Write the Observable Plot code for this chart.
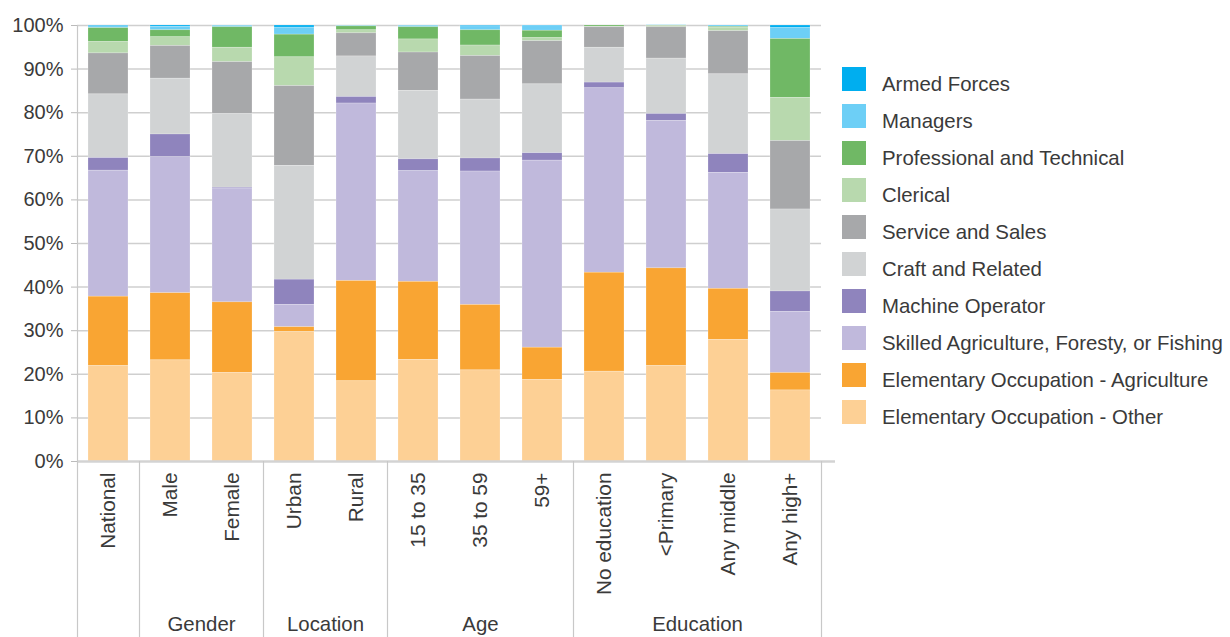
<!DOCTYPE html>
<html>
<head>
<meta charset="utf-8">
<script src="https://cdn.jsdelivr.net/npm/d3@7"></script>
<script src="https://cdn.jsdelivr.net/npm/@observablehq/plot@0.6"></script>
<style>
  html, body { margin: 0; padding: 0; background: #fff; }
  #wrap { position: relative; width: 1230px; height: 637px; overflow: hidden; font-family: "Liberation Sans", Arial, sans-serif; color: #3a3a3a; }
  #chart { position: absolute; left: 0; top: 0; }
  #legend { position: absolute; left: 842px; top: 67px; }
  .item { display: flex; align-items: center; height: 24px; margin-bottom: 13px; font-size: 20.4px; white-space: nowrap; }
  .sw { width: 24px; height: 24px; margin-right: 16px; flex: none; }
  .lbl { position: relative; top: 5px; }
</style>
</head>
<body>
<div id="wrap"><div id="chart"></div><div id="legend"></div></div>
<script>
// ---- data ----
const categories = ["National","Male","Female","Urban","Rural","15 to 35","35 to 59","59+","No education","<Primary","Any middle","Any high+"];
const occupations = ["Armed Forces","Managers","Professional and Technical","Clerical","Service and Sales","Craft and Related","Machine Operator","Skilled Agriculture, Foresty, or Fishing","Elementary Occupation - Agriculture","Elementary Occupation - Other"];
const colors = ["#00aeef","#6dcff6","#70b865","#b8d9ae","#a7a8aa","#d1d3d4","#8f84bd","#c0b9dc","#f9a533","#fdd095"];

const armed        = [0.2,0.3,0.1,0.5,0.1,0.1,0.2,0.0,0.0,0.0,0.0,0.6];
const managers     = [0.4,0.8,0.3,1.6,0.1,0.3,0.9,1.2,0.0,0.1,0.3,2.5];
const professional = [3.2,1.6,4.7,5.2,0.9,2.8,3.5,1.7,0.3,0.1,0.2,13.5];
const clerical     = [2.6,2.0,3.3,6.6,0.7,3.0,2.4,0.7,0.1,0.3,0.8,9.9];
const service      = [9.4,7.5,11.9,18.3,5.3,8.8,10.0,9.9,4.7,7.2,9.9,15.7];
const craft        = [14.6,12.8,16.9,26.1,9.3,15.7,13.5,15.8,8.0,12.7,18.3,18.8];
const machine      = [2.9,5.2,0.2,5.8,1.5,2.7,3.0,1.7,1.3,1.6,4.3,4.7];
const skilled      = [28.9,31.2,26.1,5.1,40.7,25.4,30.6,42.9,42.3,33.8,26.6,14.0];
const eoAgri       = [15.9,15.4,16.2,1.1,23.0,17.9,15.0,7.4,22.7,22.4,11.7,4.0];
const eoOther      = [21.9,23.2,20.3,29.7,18.4,23.3,20.9,18.7,20.6,21.9,27.9,16.3];

const yTicks = [0,10,20,30,40,50,60,70,80,90,100];

const groups = [
  {name: "Gender",    members: ["Male","Female"]},
  {name: "Location",  members: ["Urban","Rural"]},
  {name: "Age",       members: ["15 to 35","35 to 59","59+"]},
  {name: "Education", members: ["No education","<Primary","Any middle","Any high+"]}
];

// ---- build table ----
const seriesValues = [armed, managers, professional, clerical, service, craft, machine, skilled, eoAgri, eoOther];
const rows = [];
categories.forEach((c, i) => {
  occupations.forEach((o, k) => rows.push({category: c, occupation: o, value: seriesValues[k][i]}));
});
const bottomUp = occupations.slice().reverse();

// layout constants
const STEP = 62;
const HALF = STEP / 2;

const groupStarts = groups.map(g => g.members[0]);
const lastCat = categories[categories.length - 1];
const groupLabelAnchors = groups.map(g => ({
  name: g.name,
  cat: g.members[Math.floor((g.members.length - 1) / 2)],
  even: g.members.length % 2 === 0
}));

const chart = Plot.plot({
  width: 840,
  height: 637,
  marginTop: 25,
  marginBottom: 176,
  marginLeft: 77,
  marginRight: 19,
  style: {fontFamily: "'Liberation Sans', Arial, sans-serif", fontSize: "20px", color: "#3a3a3a", background: "transparent", overflow: "visible"},
  x: {domain: categories, paddingInner: 22 / STEP, paddingOuter: 11 / STEP, label: null},
  y: {domain: [0, 100], label: null},
  color: {domain: occupations, range: colors},
  marks: [
    Plot.ruleY(yTicks.filter(d => d > 0), {stroke: "#cfcfcf", strokeWidth: 1.5}),
    Plot.barY(rows, Plot.stackY({order: bottomUp}, {
      x: "category", y: "value", fill: "occupation", z: "occupation",
      stroke: "#fff", strokeOpacity: 0.35, strokeWidth: 0.6
    })),
    Plot.ruleY([0], {stroke: "#d3d3d3", strokeWidth: 2.5, insetRight: -14}),
    // left axis line (full height, extends under labels)
    Plot.ruleX([categories[0]], {x: d => d, dx: -HALF, stroke: "#c8c8c8", strokeWidth: 1.2, insetBottom: -176}),
    // group separators below axis
    Plot.ruleX(groupStarts, {x: d => d, dx: -HALF, stroke: "#c8c8c8", strokeWidth: 1.2, insetTop: 436, insetBottom: -176}),
    Plot.ruleX([lastCat], {x: d => d, dx: HALF, stroke: "#c8c8c8", strokeWidth: 1.2, insetTop: 436, insetBottom: -176}),
    Plot.axisY({ticks: yTicks, tickFormat: d => d + "%", tickSize: 6, tickPadding: 8, fontSize: 20, stroke: "#bbb", label: null}),
    Plot.axisX({tickRotate: -90, tickSize: 0, tickPadding: 11, fontSize: 20.8, label: null}),
    Plot.text(groupLabelAnchors.filter(d => d.even), {x: "cat", text: "name", dx: HALF, frameAnchor: "bottom", dy: 169, fontSize: 20.4, fill: "#3a3a3a"}),
    Plot.text(groupLabelAnchors.filter(d => !d.even), {x: "cat", text: "name", frameAnchor: "bottom", dy: 169, fontSize: 20.4, fill: "#3a3a3a"})
  ]
});
document.getElementById("chart").appendChild(chart);

// ---- legend ----
const legend = document.getElementById("legend");
occupations.forEach((o, k) => {
  const item = document.createElement("div");
  item.className = "item";
  const sw = document.createElement("span");
  sw.className = "sw";
  sw.style.background = colors[k];
  const label = document.createElement("span");
  label.className = "lbl";
  label.textContent = o;
  item.appendChild(sw);
  item.appendChild(label);
  legend.appendChild(item);
});
</script>
</body>
</html>
